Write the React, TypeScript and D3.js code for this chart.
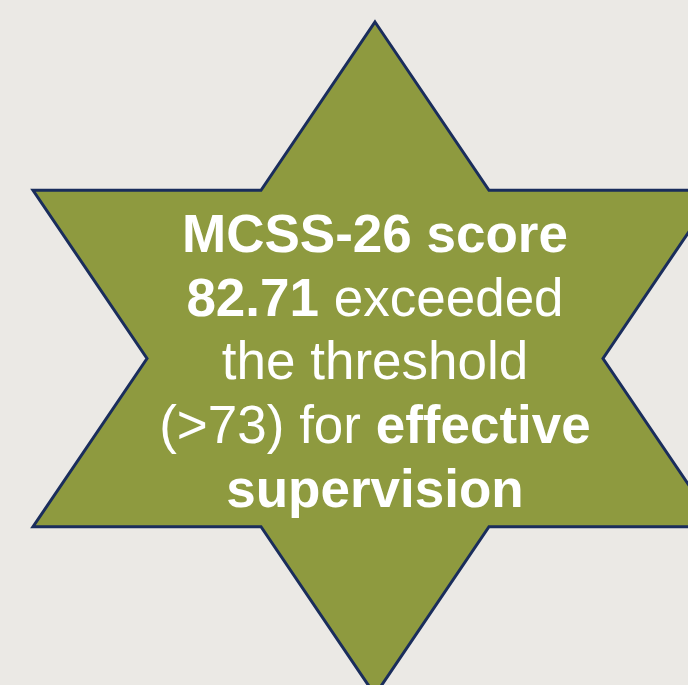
import React from "react";
import * as d3 from "d3";

// Hexagram outline in unit coordinates (x: -1..1, y: 0..1)
const starX = [0, 1 / 3, 1, 2 / 3, 1, 1 / 3, 0, -1 / 3, -1, -2 / 3, -1, -1 / 3];
const starY = [0, 0.25, 0.25, 0.5, 0.75, 0.75, 1, 0.75, 0.75, 0.5, 0.25, 0.25];

// Text lines: segments with bold flags
const lineTexts = [
  [["MCSS-26 score", true]],
  [["82.71", true], [" exceeded", false]],
  [["the threshold", false]],
  [["(>73) for ", false], ["effective", true]],
  [["supervision", true]],
] as [string, boolean][][];

const W = 688;
const H = 685;

export default function App() {
  const x = d3.scaleLinear().domain([-1, 1]).range([33, 717]);
  const y = d3.scaleLinear().domain([0, 1]).range([22, 695]);
  const pts: [number, number][] = starX.map((v, i) => [x(v), y(starY[i])]);
  const path = d3.line().curve(d3.curveLinearClosed)(pts) || "";

  const lineY = d3.scaleLinear().domain([0, 1]).range([252, 315.7]);

  return (
    <svg
      width={W}
      height={H}
      style={{ position: "absolute", left: 0, top: 0, display: "block" }}
    >
      <rect x={0} y={0} width={W} height={H} fill="#ebe9e5" />
      <path
        d={path}
        fill="#8e9a3f"
        stroke="#1a2d5c"
        strokeWidth={3}
        strokeLinejoin="miter"
      />
      {lineTexts.map((segs, i) => (
        <text
          key={i}
          x={375}
          y={lineY(i)}
          textAnchor="middle"
          fill="#ffffff"
          fontFamily="'Liberation Sans', Arial, sans-serif"
          fontSize={53}
        >
          {segs.map(([t, b], j) => (
            <tspan key={j} fontWeight={b ? "bold" : "normal"} style={{ whiteSpace: "pre" }}>
              {t}
            </tspan>
          ))}
        </text>
      ))}
    </svg>
  );
}
